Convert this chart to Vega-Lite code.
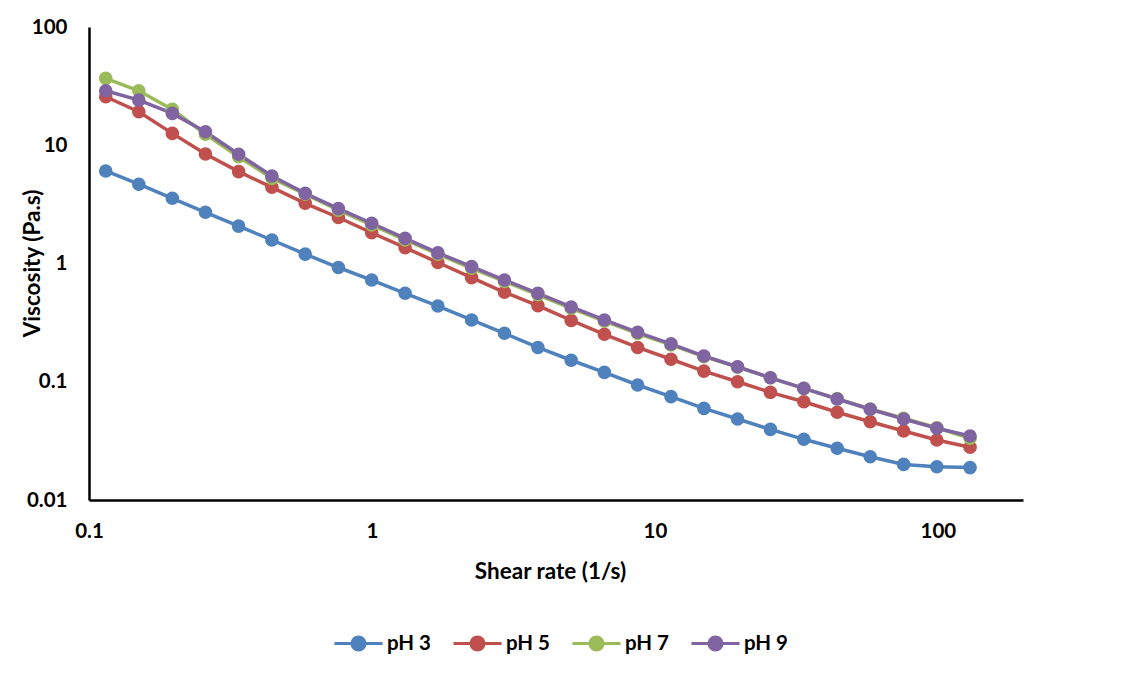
{
  "$schema": "https://vega.github.io/schema/vega-lite/v6.json",
  "width": 934,
  "height": 473,
  "autosize": {"type": "none"},
  "padding": {"left": 89, "top": 27, "right": 108, "bottom": 173},
  "background": "white",
  "config": {
    "view": {"stroke": null},
    "font": "Lato",
    "axis": {"labelFont": "Lato", "titleFont": "Lato", "labelFontWeight": "bold", "titleFontWeight": "bold", "labelColor": "#000", "titleColor": "#000", "grid": false, "ticks": false, "domainColor": "#000", "domainWidth": 2.5},
    "legend": {"labelFont": "Lato", "labelFontWeight": "bold", "labelColor": "#000"}
  },
  "data": {"values": [
    {"series":"pH 3","shear":0.1146,"viscosity":6.06},{"series":"pH 3","shear":0.150,"viscosity":4.68},{"series":"pH 3","shear":0.197,"viscosity":3.56},{"series":"pH 3","shear":0.258,"viscosity":2.71},{"series":"pH 3","shear":0.338,"viscosity":2.07},{"series":"pH 3","shear":0.443,"viscosity":1.58},{"series":"pH 3","shear":0.581,"viscosity":1.20},{"series":"pH 3","shear":0.761,"viscosity":0.925},{"series":"pH 3","shear":0.998,"viscosity":0.725},{"series":"pH 3","shear":1.31,"viscosity":0.560},{"series":"pH 3","shear":1.71,"viscosity":0.437},{"series":"pH 3","shear":2.25,"viscosity":0.333},{"series":"pH 3","shear":2.94,"viscosity":0.257},{"series":"pH 3","shear":3.86,"viscosity":0.195},{"series":"pH 3","shear":5.06,"viscosity":0.152},{"series":"pH 3","shear":6.63,"viscosity":0.120},{"series":"pH 3","shear":8.69,"viscosity":0.0939},{"series":"pH 3","shear":11.4,"viscosity":0.0748},{"series":"pH 3","shear":14.9,"viscosity":0.0596},{"series":"pH 3","shear":19.6,"viscosity":0.0484},{"series":"pH 3","shear":25.6,"viscosity":0.0396},{"series":"pH 3","shear":33.6,"viscosity":0.0326},{"series":"pH 3","shear":44.1,"viscosity":0.0274},{"series":"pH 3","shear":57.7,"viscosity":0.0232},{"series":"pH 3","shear":75.7,"viscosity":0.0200},{"series":"pH 3","shear":99.2,"viscosity":0.0191},{"series":"pH 3","shear":130,"viscosity":0.0188},
    {"series":"pH 5","shear":0.1146,"viscosity":25.7},{"series":"pH 5","shear":0.150,"viscosity":19.2},{"series":"pH 5","shear":0.197,"viscosity":12.6},{"series":"pH 5","shear":0.258,"viscosity":8.43},{"series":"pH 5","shear":0.338,"viscosity":5.98},{"series":"pH 5","shear":0.443,"viscosity":4.41},{"series":"pH 5","shear":0.581,"viscosity":3.23},{"series":"pH 5","shear":0.761,"viscosity":2.45},{"series":"pH 5","shear":0.998,"viscosity":1.82},{"series":"pH 5","shear":1.31,"viscosity":1.36},{"series":"pH 5","shear":1.71,"viscosity":1.02},{"series":"pH 5","shear":2.25,"viscosity":0.759},{"series":"pH 5","shear":2.94,"viscosity":0.571},{"series":"pH 5","shear":3.86,"viscosity":0.440},{"series":"pH 5","shear":5.06,"viscosity":0.330},{"series":"pH 5","shear":6.63,"viscosity":0.252},{"series":"pH 5","shear":8.69,"viscosity":0.195},{"series":"pH 5","shear":11.4,"viscosity":0.155},{"series":"pH 5","shear":14.9,"viscosity":0.123},{"series":"pH 5","shear":19.6,"viscosity":0.100},{"series":"pH 5","shear":25.6,"viscosity":0.0814},{"series":"pH 5","shear":33.6,"viscosity":0.0678},{"series":"pH 5","shear":44.1,"viscosity":0.0552},{"series":"pH 5","shear":57.7,"viscosity":0.0459},{"series":"pH 5","shear":75.7,"viscosity":0.0383},{"series":"pH 5","shear":99.2,"viscosity":0.0322},{"series":"pH 5","shear":130,"viscosity":0.0279},
    {"series":"pH 7","shear":0.1146,"viscosity":36.8},{"series":"pH 7","shear":0.150,"viscosity":28.9},{"series":"pH 7","shear":0.197,"viscosity":20.1},{"series":"pH 7","shear":0.258,"viscosity":12.4},{"series":"pH 7","shear":0.338,"viscosity":8.00},{"series":"pH 7","shear":0.443,"viscosity":5.25},{"series":"pH 7","shear":0.581,"viscosity":3.85},{"series":"pH 7","shear":0.761,"viscosity":2.83},{"series":"pH 7","shear":0.998,"viscosity":2.12},{"series":"pH 7","shear":1.31,"viscosity":1.58},{"series":"pH 7","shear":1.71,"viscosity":1.20},{"series":"pH 7","shear":2.25,"viscosity":0.911},{"series":"pH 7","shear":2.94,"viscosity":0.705},{"series":"pH 7","shear":3.86,"viscosity":0.544},{"series":"pH 7","shear":5.06,"viscosity":0.418},{"series":"pH 7","shear":6.63,"viscosity":0.325},{"series":"pH 7","shear":8.69,"viscosity":0.256},{"series":"pH 7","shear":11.4,"viscosity":0.205},{"series":"pH 7","shear":14.9,"viscosity":0.163},{"series":"pH 7","shear":19.6,"viscosity":0.133},{"series":"pH 7","shear":25.6,"viscosity":0.108},{"series":"pH 7","shear":33.6,"viscosity":0.0880},{"series":"pH 7","shear":44.1,"viscosity":0.0720},{"series":"pH 7","shear":57.7,"viscosity":0.0588},{"series":"pH 7","shear":75.7,"viscosity":0.0491},{"series":"pH 7","shear":99.2,"viscosity":0.0408},{"series":"pH 7","shear":130,"viscosity":0.0333},
    {"series":"pH 9","shear":0.1146,"viscosity":28.9},{"series":"pH 9","shear":0.150,"viscosity":24.1},{"series":"pH 9","shear":0.197,"viscosity":18.6},{"series":"pH 9","shear":0.258,"viscosity":13.0},{"series":"pH 9","shear":0.338,"viscosity":8.39},{"series":"pH 9","shear":0.443,"viscosity":5.50},{"series":"pH 9","shear":0.581,"viscosity":3.92},{"series":"pH 9","shear":0.761,"viscosity":2.91},{"series":"pH 9","shear":0.998,"viscosity":2.19},{"series":"pH 9","shear":1.31,"viscosity":1.63},{"series":"pH 9","shear":1.71,"viscosity":1.23},{"series":"pH 9","shear":2.25,"viscosity":0.940},{"series":"pH 9","shear":2.94,"viscosity":0.725},{"series":"pH 9","shear":3.86,"viscosity":0.560},{"series":"pH 9","shear":5.06,"viscosity":0.429},{"series":"pH 9","shear":6.63,"viscosity":0.333},{"series":"pH 9","shear":8.69,"viscosity":0.262},{"series":"pH 9","shear":11.4,"viscosity":0.209},{"series":"pH 9","shear":14.9,"viscosity":0.165},{"series":"pH 9","shear":19.6,"viscosity":0.134},{"series":"pH 9","shear":25.6,"viscosity":0.108},{"series":"pH 9","shear":33.6,"viscosity":0.0880},{"series":"pH 9","shear":44.1,"viscosity":0.0715},{"series":"pH 9","shear":57.7,"viscosity":0.0585},{"series":"pH 9","shear":75.7,"viscosity":0.0484},{"series":"pH 9","shear":99.2,"viscosity":0.0404},{"series":"pH 9","shear":130,"viscosity":0.0348}
  ]},
  "mark": {"type": "line", "strokeWidth": 3.5, "point": {"filled": true, "size": 185, "opacity": 1}},
  "encoding": {
    "x": {"field": "shear", "type": "quantitative",
      "scale": {"type": "log", "domain": [0.1, 200], "nice": false},
      "axis": {"values": [0.1, 1, 10, 100], "format": "~g", "labelFontSize": 20.5, "labelPadding": 21, "title": "Shear rate (1/s)", "titleFontSize": 22.5, "titlePadding": 19, "titleX": 461, "labelFlush": false}},
    "y": {"field": "viscosity", "type": "quantitative",
      "scale": {"type": "log", "domain": [0.01, 100], "nice": false},
      "axis": {"values": [0.01, 0.1, 1, 10, 100], "format": "~g", "labelFontSize": 20.5, "labelPadding": 22, "title": "Viscosity (Pa.s)", "titleFontSize": 22.5, "titleX": -57, "titleY": 236, "titleBaseline": "middle", "titleAlign": "center", "labelFlush": false}},
    "color": {"field": "series", "type": "nominal",
      "scale": {"domain": ["pH 3", "pH 5", "pH 7", "pH 9"], "range": ["#4F81BD", "#C0504D", "#9BBB59", "#8064A2"]},
      "legend": {"title": null, "orient": "none", "direction": "horizontal", "legendX": 255, "legendY": 602,
        "symbolType": "M-1.85,0L1.85,0M-0.5,0A0.5,0.5 0 1,0 0.5,0A0.5,0.5 0 1,0 -0.5,0Z",
        "symbolSize": 676, "symbolStrokeWidth": 3, "labelFontSize": 20.5, "labelOffset": 14, "columnPadding": 15}}
  }
}
